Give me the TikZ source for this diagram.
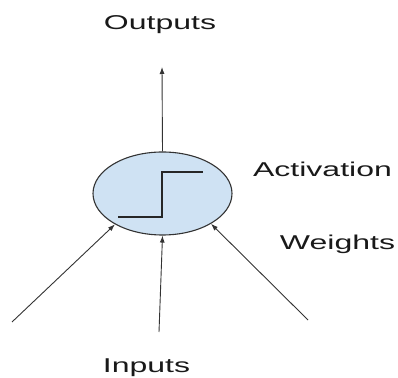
\documentclass[tikz,border=0pt]{standalone}
\usepackage{fontspec}
\setmainfont{Liberation Sans}
\usepackage{tikz}
\usetikzlibrary{arrows.meta,shapes.geometric}

\definecolor{cellfill}{HTML}{CFE2F3}
\definecolor{linegray}{HTML}{333333}
% stretched labels
\newcommand{\widelabel}[1]{\scalebox{1.6}[1]{#1}}

\begin{document}
\begin{tikzpicture}[
  x=1pt,y=1pt,
  lbl/.style={font=\fontsize{20}{24}\selectfont,text=black!90,inner sep=0pt,anchor=base},
  cell/.style={ellipse,draw=linegray,fill=cellfill,line width=1.1pt,minimum width=139pt,minimum height=83pt,inner sep=0pt},
  >={Latex[length=7pt,width=5pt]},line width=0.9pt
]
\useasboundingbox (0,0) rectangle (398,377);
\node[cell] (neuron) at (162.5,183.5) {};
% step function inside the cell
\draw[line width=1.1pt,black!85] (118,160) -- (162,160) -- (162,205) -- (203,205);

\node[lbl] (out) at (160,347) {\widelabel{Outputs}};
\node[lbl] (act) at (322.5,200) {\widelabel{Activation}};
\node[lbl] (wts) at (337.5,127) {\widelabel{Weights}};
\node[lbl] (inp) at (146.5,4.5) {\widelabel{Inputs}};

\coordinate (top) at (162,310);
\coordinate (inL) at (12,55);
\coordinate (inM) at (159,45);
\coordinate (inR) at (308,57);

\draw[->,linegray] (neuron.north) -- (top);
\draw[->,linegray] (inL) -- (neuron.213);
\draw[->,linegray] (inM) -- (neuron.south);
\draw[->,linegray] (inR) -- (neuron.328);
\end{tikzpicture}
\end{document}
